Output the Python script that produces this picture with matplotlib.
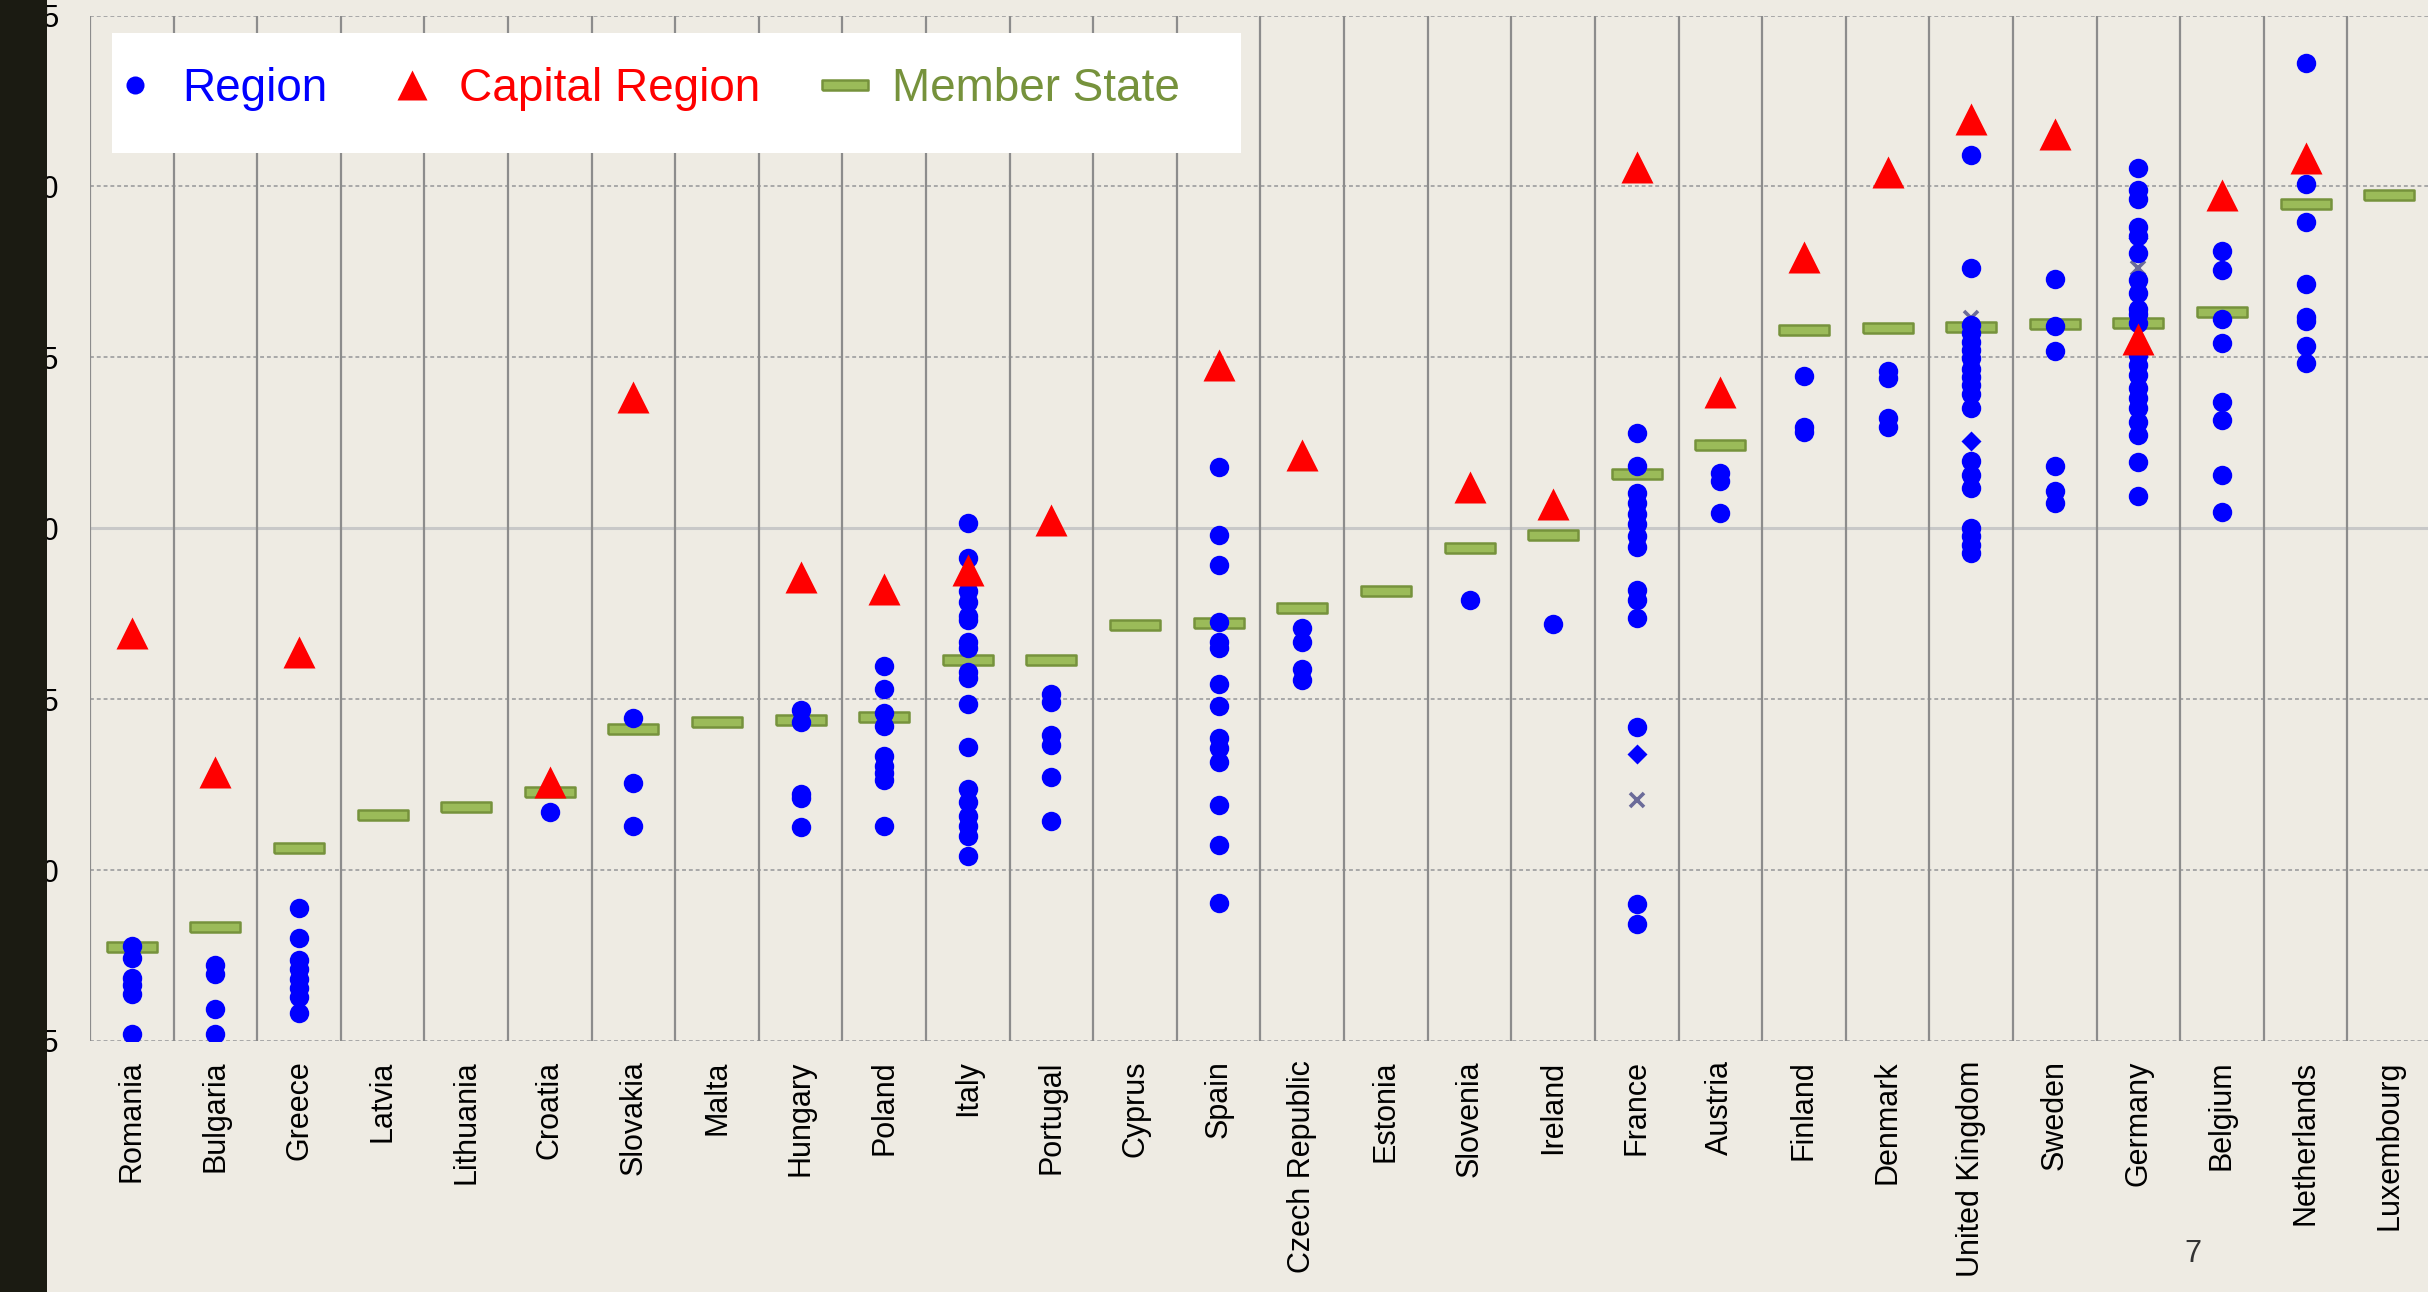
import matplotlib
matplotlib.use("Agg")
import matplotlib.pyplot as plt
from matplotlib.lines import Line2D
from matplotlib.patches import Rectangle

plt.rcParams['font.family'] = ['Liberation Sans', 'DejaVu Sans']

# 資料
countries = ["Romania", "Bulgaria", "Greece", "Latvia", "Lithuania", "Croatia", "Slovakia",
             "Malta", "Hungary", "Poland", "Italy", "Portugal", "Cyprus", "Spain",
             "Czech Republic", "Estonia", "Slovenia", "Ireland", "France", "Austria",
             "Finland", "Denmark", "United Kingdom", "Sweden", "Germany", "Belgium",
             "Netherlands", "Luxembourg"]

member_state = [-1.226, -1.167, -0.936, -0.839, -0.816, -0.771, -0.588, -0.566, -0.562, -0.553,
                -0.386, -0.386, -0.283, -0.278, -0.234, -0.183, -0.058, -0.021, 0.158, 0.243,
                0.581, 0.585, 0.589, 0.598, 0.601, 0.632, 0.949, 0.976]

capital_region = [-0.305, -0.714, -0.363, None, None, -0.741, 0.385, None, -0.143, -0.177,
                  -0.123, 0.025, None, 0.477, 0.214, None, 0.121, 0.072, 1.057, 0.399,
                  0.793, 1.042, 1.197, 1.152, 0.553, 0.975, 1.082, None]

regions = [
    [-1.221, -1.257, -1.315, -1.336, -1.362, -1.479],
    [-1.278, -1.304, -1.406, -1.479],
    [-1.111, -1.200, -1.263, -1.289, -1.320, -1.346, -1.372, -1.419],
    [],
    [],
    [-0.831],
    [-0.556, -0.744, -0.870],
    [],
    [-0.532, -0.566, -0.776, -0.790, -0.873],
    [-0.404, -0.471, -0.541, -0.579, -0.667, -0.696, -0.715, -0.737, -0.870],
    [0.014, -0.088, -0.185, -0.215, -0.256, -0.268, -0.332, -0.350, -0.420, -0.438,
     -0.514, -0.640, -0.763, -0.800, -0.843, -0.872, -0.900, -0.958],
    [-0.485, -0.508, -0.604, -0.635, -0.729, -0.857],
    [],
    [0.178, -0.021, -0.107, -0.275, -0.332, -0.350, -0.455, -0.520, -0.614, -0.643,
     -0.684, -0.810, -0.928, -1.097],
    [-0.291, -0.332, -0.412, -0.444],
    [],
    [-0.209],
    [-0.280],
    [0.278, 0.181, 0.103, 0.073, 0.043, 0.013, -0.024, -0.054, -0.181, -0.210,
     -0.263, -0.580, -1.099, -1.158],
    [0.163, 0.137, 0.046],
    [0.446, 0.297, 0.282],
    [0.461, 0.439, 0.322, 0.297],
    [1.093, 0.761, 0.594, 0.570, 0.545, 0.521, 0.497, 0.467, 0.443, 0.419, 0.394,
     0.351, 0.197, 0.156, 0.117, 0.000, -0.024, -0.049, -0.073],
    [0.730, 0.592, 0.518, 0.182, 0.110, 0.075],
    [1.054, 0.990, 0.964, 0.880, 0.856, 0.806, 0.726, 0.688, 0.642, 0.626, 0.600,
     0.506, 0.477, 0.448, 0.409, 0.380, 0.351, 0.312, 0.273, 0.195, 0.095],
    [0.810, 0.756, 0.613, 0.543, 0.370, 0.318, 0.155, 0.047],
    [1.362, 1.008, 0.895, 0.714, 0.619, 0.605, 0.533, 0.484],
    [],
]

# 其他標記（無圖例）
diamond_countries = ["France", "United Kingdom", "Germany"]
diamond_vals = [-0.661, 0.256, 0.850]
cross_countries = ["France", "United Kingdom", "Germany"]
cross_vals = [-0.796, 0.615, 0.762]

yticks = [-1.5, -1.0, -0.5, 0.0, 0.5, 1.0, 1.5]
legend_labels = ["Region", "Capital Region", "Member State"]

# 顏色
bg = "#EEEBE3"
blue = "#0000FF"
red = "#FF0000"
green_fill = "#9BBB59"
green_edge = "#76923C"
cross_col = "#6B6B99"

bar_marker = [(-2.3, -0.5), (2.3, -0.5), (2.3, 0.5), (-2.3, 0.5), (-2.3, -0.5)]

fig = plt.figure(figsize=(24.28, 12.92), dpi=100, facecolor=bg)
fig.patches.append(Rectangle((0, 0), 47 / 2428, 1, transform=fig.transFigure,
                             facecolor="#1B1B12", edgecolor="none", zorder=0))
ax = fig.add_axes([90 / 2428, 1 - 1041 / 1292, 2341 / 2428, 1025.5 / 1292])
ax.set_facecolor(bg)

xs = list(range(len(countries)))

# 格線
for k in range(len(countries) + 1):
    ax.axvline(k - 0.5, color="#8C8C8C", lw=1.6, zorder=0.5)
for t in yticks:
    if t == 0:
        ax.axhline(t, color="#C8C8C8", lw=2.2, zorder=0.4)
    else:
        ax.axhline(t, color="#A8A8A8", lw=1.4, ls=(0, (2, 1.5)), zorder=0.4)

# 交叉與菱形
cx = [countries.index(c) for c in cross_countries]
ax.plot(cx, cross_vals, ls="none", marker="x", ms=10, mew=2.6, color=cross_col, zorder=1)
dx = [countries.index(c) for c in diamond_countries]
ax.plot(dx, diamond_vals, ls="none", marker="D", ms=10, color=blue, mec="none", zorder=2)

# Member State
ax.plot(xs, member_state, ls="none", marker=bar_marker, ms=36, mfc=green_fill,
        mec=green_edge, mew=1.8, zorder=3)

# Region
rx = [i for i, vals in enumerate(regions) for _ in vals]
ry = [v for vals in regions for v in vals]
ax.plot(rx, ry, ls="none", marker="o", ms=14, color=blue, mec="none", zorder=4)

# Capital Region
cap_x = [i for i, v in enumerate(capital_region) if v is not None]
cap_y = [v for v in capital_region if v is not None]
ax.plot(cap_x, cap_y, ls="none", marker="^", ms=23, color=red, mec="none", zorder=5)

ax.set_xlim(-0.5, len(countries) - 0.5)
ax.set_ylim(-1.5, 1.5)
for s in ax.spines.values():
    s.set_visible(False)
ax.set_xticks(xs)
ax.set_xticklabels(countries, rotation=90, fontsize=22)
ax.set_yticks(yticks)
ax.set_yticklabels([f"{t:.1f}" for t in yticks], fontsize=22)
ax.tick_params(axis="x", length=0, pad=14)
ax.tick_params(axis="y", length=0, pad=22)

# 圖例
ax.add_patch(Rectangle((0.0094, 0.8659), 0.4823, 0.117, transform=ax.transAxes,
                       facecolor="white", edgecolor="none", zorder=6))
handles = [
    Line2D([], [], ls="none", marker="o", ms=13, color=blue, mec="none"),
    Line2D([], [], ls="none", marker="^", ms=22, color=red, mec="none"),
    Line2D([], [], ls="none", marker=bar_marker, ms=33, mfc=green_fill, mec=green_edge, mew=1.8),
]
leg = ax.legend(handles, legend_labels, ncol=3, loc="center left",
                bbox_to_anchor=(0.0107, 0.9283), frameon=False, fontsize=33,
                borderpad=0, borderaxespad=0, handlelength=0.873, handletextpad=0.6,
                columnspacing=1.4)
leg.set_zorder(7)
for txt, col in zip(leg.get_texts(), [blue, red, green_edge]):
    txt.set_color(col)

fig.text(2193 / 2428, 1 - 1254 / 1292, "7", fontsize=22, color="#333333",
         ha="center", va="center")

fig.savefig("out.png", dpi=100, facecolor=bg)
